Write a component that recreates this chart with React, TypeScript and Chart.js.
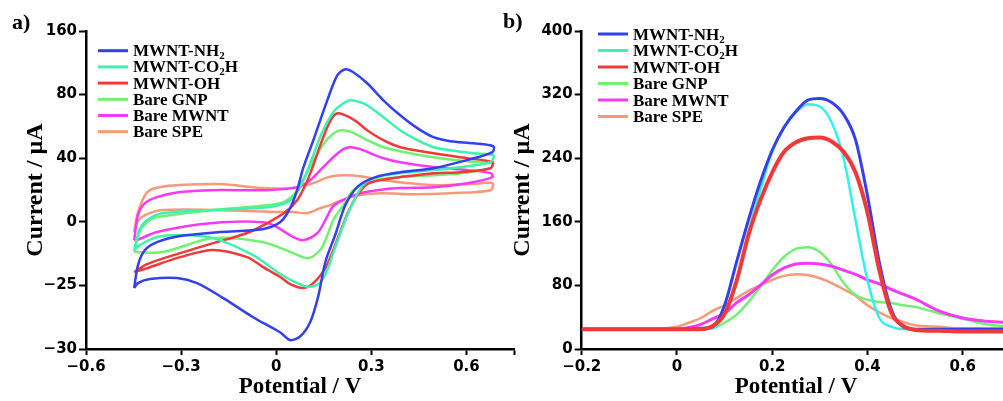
import React, { useEffect, useRef } from 'react';
import { Chart, registerables } from 'chart.js';

Chart.register(...registerables);

// ---------- shared ----------
const seriesNames = ['MWNT-NH₂', 'MWNT-CO₂H', 'MWNT-OH', 'Bare GNP', 'Bare MWNT', 'Bare SPE'];
const legendColors = ['#3340ee', '#40f0b0', '#f03a3a', '#72f072', '#f53af5', '#f8997a'];
const cvColors = ['#3340ee', '#40f0b0', '#f03a3a', '#72f072', '#f53af5', '#f8997a'];
const dpvColors = ['#3340ee', '#33f0f0', '#f03a3a', '#72f072', '#f53af5', '#f8997a'];

// ---------- panel a) cyclic voltammetry ----------
const cvYTickValues = [-30, -25, 0, 40, 80, 160];
const cvXTicks = [-0.6, -0.3, 0, 0.3, 0.6];

const cvNh2Potential = [-0.448, -0.436, -0.414, -0.376, -0.303, -0.177, -0.044, 0.013, 0.044, 0.066, 0.085, 0.117, 0.161, 0.193, 0.218, 0.243, 0.287, 0.338, 0.391, 0.445, 0.496, 0.549, 0.622, 0.685,
  0.682, 0.613, 0.496, 0.391, 0.313, 0.259, 0.218, 0.186, 0.155, 0.133, 0.107, 0.076, 0.044, 0.013, -0.073, -0.167, -0.250, -0.313, -0.398, -0.436, -0.448];
const cvNh2Current = [-25.2, -17.0, -11.1, -8.0, -5.6, -4.0, -2.9, -0.1, 8.6, 19.9, 33.7, 51.3, 76.4, 104.4, 111.9, 108.1, 94.3, 76.4, 67.0, 58.9, 53.2, 50.7, 49.4, 47.5,
  43.8, 39.4, 33.7, 31.2, 28.1, 22.4, 10.5, -5.2, -15.8, -25.8, -27.9, -29.0, -29.3, -28.7, -27.5, -26.0, -24.1, -22.1, -22.5, -24.1, -25.2];

const cvCo2hPotential = [-0.448, -0.429, -0.398, -0.357, -0.199, -0.028, 0.035, 0.066, 0.092, 0.117, 0.145, 0.180, 0.212, 0.234, 0.265, 0.287, 0.338, 0.391, 0.445, 0.496, 0.549, 0.622, 0.685,
  0.676, 0.603, 0.496, 0.391, 0.328, 0.287, 0.259, 0.234, 0.208, 0.183, 0.158, 0.133, 0.098, 0.060, 0.013, -0.073, -0.199, -0.303, -0.376, -0.429, -0.448];
const cvCo2hCurrent = [-11.1, -2.5, 2.3, 5.5, 7.4, 9.2, 12.4, 18.7, 29.0, 41.9, 56.3, 68.9, 74.5, 76.4, 75.2, 73.3, 65.8, 57.6, 51.3, 46.9, 45.0, 43.1, 41.9,
  37.5, 35.0, 32.5, 30.6, 28.7, 25.6, 18.7, 8.6, -2.5, -11.1, -19.8, -24.5, -25.1, -23.7, -20.5, -13.1, -6.4, -5.2, -6.0, -9.1, -11.1];

const cvOhPotential = [-0.448, -0.407, -0.303, -0.199, -0.092, -0.028, 0.029, 0.066, 0.092, 0.117, 0.139, 0.161, 0.180, 0.196, 0.224, 0.256, 0.287, 0.338, 0.391, 0.496, 0.603, 0.682,
  0.676, 0.581, 0.496, 0.391, 0.328, 0.287, 0.256, 0.227, 0.202, 0.180, 0.155, 0.117, 0.085, 0.044, 0.013, -0.041, -0.092, -0.199, -0.303, -0.407, -0.448];
const cvOhCurrent = [-19.8, -16.6, -12.3, -8.4, -4.4, -0.5, 6.1, 13.6, 23.1, 35.6, 48.2, 59.5, 66.4, 68.3, 66.4, 62.6, 57.6, 51.3, 46.9, 43.1, 40.0, 37.5,
  33.7, 31.2, 30.6, 28.1, 26.2, 23.7, 16.8, 6.1, -4.0, -11.1, -18.2, -24.1, -25.2, -24.5, -21.7, -17.8, -13.9, -11.1, -13.9, -18.2, -19.8];

const cvGnpPotential = [-0.448, -0.429, -0.398, -0.376, -0.199, 0.013, 0.054, 0.076, 0.101, 0.133, 0.164, 0.193, 0.212, 0.240, 0.287, 0.338, 0.391, 0.496, 0.603, 0.682,
  0.676, 0.581, 0.496, 0.391, 0.328, 0.281, 0.243, 0.212, 0.180, 0.158, 0.139, 0.101, 0.054, -0.041, -0.199, -0.357, -0.448];
const cvGnpCurrent = [-11.9, -3.3, 1.1, 3.0, 7.4, 11.7, 16.8, 23.1, 32.5, 43.8, 52.6, 57.0, 57.6, 56.3, 51.3, 46.9, 44.4, 40.6, 38.1, 36.9,
  33.7, 30.6, 29.3, 28.1, 26.8, 24.3, 19.9, 10.5, 1.1, -6.4, -11.1, -14.3, -12.3, -8.0, -6.4, -11.9, -11.9];

const cvMwntPotential = [-0.448, -0.436, -0.414, -0.376, -0.303, -0.199, -0.028, 0.066, 0.107, 0.145, 0.180, 0.212, 0.234, 0.265, 0.297, 0.338, 0.391, 0.496, 0.603, 0.676,
  0.682, 0.603, 0.496, 0.391, 0.319, 0.265, 0.218, 0.180, 0.155, 0.130, 0.085, 0.054, -0.028, -0.199, -0.376, -0.439, -0.448];
const cvMwntCurrent = [-7.2, 4.2, 11.7, 15.5, 18.7, 19.9, 19.9, 21.8, 26.2, 33.7, 40.6, 45.7, 46.9, 45.7, 43.1, 40.0, 37.5, 34.4, 32.5, 30.6,
  28.1, 24.3, 21.8, 21.2, 19.9, 18.0, 14.3, 9.9, 1.1, -4.4, -7.2, -6.0, -0.5, -0.5, -4.0, -7.2, -7.2];

const cvSpePotential = [-0.448, -0.436, -0.407, -0.366, -0.303, -0.177, -0.041, 0.054, 0.117, 0.164, 0.212, 0.265, 0.338, 0.496, 0.613, 0.682,
  0.676, 0.549, 0.433, 0.328, 0.265, 0.224, 0.170, 0.139, 0.098, 0.054, 0.013, -0.199, -0.357, -0.414, -0.439, -0.448];
const cvSpeCurrent = [-4.0, 6.1, 18.7, 21.8, 23.1, 23.7, 21.2, 21.2, 24.3, 28.1, 29.3, 28.7, 26.2, 23.1, 23.7, 24.3,
  19.9, 18.0, 17.4, 18.0, 16.8, 14.9, 10.5, 8.6, 5.5, 6.1, 6.1, 7.4, 7.4, 4.2, -0.2, -4.0];

// ---------- panel b) differential pulse voltammetry ----------
const dpvYTicks = [0, 80, 160, 240, 320, 400];
const dpvXTicks = [-0.2, 0, 0.2, 0.4, 0.6];
const dpvPotential = [-0.2, -0.1, -0.05, 0, 0.025, 0.05, 0.075, 0.1, 0.125, 0.15, 0.175, 0.2, 0.225, 0.25, 0.275, 0.3, 0.325, 0.35, 0.375, 0.4, 0.425, 0.45, 0.475, 0.5, 0.55, 0.6, 0.65, 0.7];
const dpvNh2 = [25, 25, 25, 25, 25, 26, 28, 55, 109, 162, 210, 250, 279, 299, 313, 315, 310, 295, 263, 193, 109, 50, 28, 25, 25, 25, 25, 25];
const dpvCo2h = [25, 25, 25, 25, 25, 25, 26, 46, 83, 146, 200, 248, 279, 298, 308, 305, 285, 240, 162, 87, 39, 28, 25, 25, 25, 25, 25, 25];
const dpvOh = [25, 25, 25, 25, 25, 25, 29, 44, 85, 143, 187, 222, 248, 260, 265, 266, 261, 248, 222, 172, 99, 46, 29, 24, 23, 22, 22, 22];
const dpvGnp = [25, 25, 25, 25, 25, 25, 26, 33, 43, 59, 78, 99, 116, 126, 128, 122, 106, 83, 68, 62, 59, 58, 55, 53, 45, 38, 31, 28];
const dpvMwnt = [25, 25, 25, 25, 27, 31, 38, 45, 58, 68, 80, 93, 102, 107, 108, 107, 104, 99, 94, 87, 82, 75, 69, 63, 48, 39, 35, 33];
const dpvSpe = [25, 25, 25, 28, 33, 39, 48, 55, 64, 73, 80, 87, 92, 94, 93, 89, 83, 75, 67, 55, 46, 39, 34, 30, 28, 26, 26, 26];

// ---------- helpers ----------
const TICK_FONT = { family: '"DejaVu Sans", sans-serif', size: 15, weight: 'bold' as const };
const TITLE_FONT = { family: '"Liberation Serif", "Times New Roman", serif', size: 24, weight: 'bold' as const };

function fmtNum(v: number, digits: number) {
  if (Math.abs(v) < 1e-9) return '0';
  return (v < 0 ? '\u2212' : '') + Math.abs(v).toFixed(digits);
}

// map a current read against the (unevenly labelled) axis of panel a) onto its evenly spaced tick bands
function toCvAxis(v: number) {
  const t = cvYTickValues;
  for (let i = 0; i < t.length - 1; i++) {
    if (v <= t[i + 1] || i === t.length - 2) return i + (v - t[i]) / (t[i + 1] - t[i]);
  }
  return 0;
}

function drawRichLabel(ctx: CanvasRenderingContext2D, text: string, x: number, y: number, size: number) {
  const parts = text.split('₂');
  let cx = x;
  parts.forEach((p, i) => {
    ctx.font = `bold ${size}px "Liberation Serif", "Times New Roman", serif`;
    ctx.fillText(p, cx, y);
    cx += ctx.measureText(p).width;
    if (i < parts.length - 1) {
      ctx.font = `bold ${Math.round(size * 0.62)}px "Liberation Serif", "Times New Roman", serif`;
      ctx.fillText('2', cx, y + 3);
      cx += ctx.measureText('2').width;
    }
  });
}

const inlineLegendPlugin = {
  id: 'inlineLegend',
  afterDraw(chart: any, _args: any, opts: any) {
    const ctx: CanvasRenderingContext2D = chart.ctx;
    ctx.save();
    chart.data.datasets.forEach((ds: any, i: number) => {
      const yy = opts.y + i * opts.step;
      ctx.strokeStyle = opts.colors[i];
      ctx.lineWidth = 3;
      ctx.beginPath();
      ctx.moveTo(opts.x, yy);
      ctx.lineTo(opts.x + 30, yy);
      ctx.stroke();
      ctx.fillStyle = '#000';
      ctx.textBaseline = 'alphabetic';
      ctx.textAlign = 'left';
      drawRichLabel(ctx, ds.label, opts.x + 35, yy + 5.5, 17);
    });
    ctx.restore();
  },
};

const panelLabelPlugin = {
  id: 'panelLabel',
  afterDraw(chart: any, _args: any, opts: any) {
    const ctx: CanvasRenderingContext2D = chart.ctx;
    ctx.save();
    ctx.fillStyle = '#000';
    ctx.textAlign = 'left';
    ctx.textBaseline = 'alphabetic';
    ctx.font = 'bold 22px "Liberation Serif", "Times New Roman", serif';
    ctx.fillText(opts.text, opts.x, opts.y);
    ctx.restore();
  },
};

function axisStyle(tickLength: number) {
  return {
    grid: { display: true, drawOnChartArea: false, drawTicks: true, tickLength, tickWidth: 2, color: '#000' },
    border: { display: true, width: 2.5, color: '#000' },
  };
}

export default function App() {
  const leftRef = useRef<HTMLCanvasElement>(null);
  const rightRef = useRef<HTMLCanvasElement>(null);

  useEffect(() => {
    const cvSeries = [
      [cvNh2Potential, cvNh2Current],
      [cvCo2hPotential, cvCo2hCurrent],
      [cvOhPotential, cvOhCurrent],
      [cvGnpPotential, cvGnpCurrent],
      [cvMwntPotential, cvMwntCurrent],
      [cvSpePotential, cvSpeCurrent],
    ];
    const left = new Chart(leftRef.current!, {
      type: 'scatter',
      data: {
        datasets: cvSeries.map(([pot, cur], i) => ({
          label: seriesNames[i],
          data: pot.map((x, j) => ({ x, y: toCvAxis(cur[j]) })),
          borderColor: cvColors[i],
          backgroundColor: cvColors[i],
          borderWidth: 2.5,
          showLine: true,
          pointRadius: 0,
          tension: 0.3,
          fill: false,
        })),
      },
      options: {
        animation: false,
        responsive: false,
        maintainAspectRatio: false,
        layout: { padding: { left: 0, top: 31, right: 26, bottom: 0 } },
        plugins: {
          legend: { display: false },
          tooltip: { enabled: false },
          inlineLegend: { x: 98, y: 50.7, step: 16.2, colors: legendColors },
          panelLabel: { text: 'a)', x: 12, y: 29 },
        } as any,
        scales: {
          x: {
            type: 'linear',
            min: -0.6,
            max: 0.75,
            afterBuildTicks: (ax: any) => { ax.ticks = [...cvXTicks, 0.75].map((value) => ({ value })); },
            afterFit: (s: any) => { s.height = 52; },
            ticks: {
              color: '#000', font: TICK_FONT, padding: 3, maxRotation: 0, autoSkip: false,
              callback: (v: any) => (cvXTicks.includes(v) ? fmtNum(v, v === 0 ? 0 : 1) : ''),
            },
            title: { display: true, text: 'Potential / V', color: '#000', font: { ...TITLE_FONT, size: 23 }, padding: { top: 0, bottom: 0 } },
            ...axisStyle(6),
          },
          y: {
            type: 'linear',
            min: 0,
            max: cvYTickValues.length - 1,
            afterBuildTicks: (ax: any) => { ax.ticks = cvYTickValues.map((_, i) => ({ value: i })); },
            afterFit: (s: any) => { s.width = 86; },
            ticks: {
              color: '#000', font: TICK_FONT, padding: 2, autoSkip: false,
              callback: (v: any) => fmtNum(cvYTickValues[Math.round(v)], 0),
            },
            title: { display: true, text: 'Current / µA', color: '#000', font: TITLE_FONT, padding: { top: 21, bottom: 0 } },
            ...axisStyle(7),
          },
        } as any,
      },
      plugins: [inlineLegendPlugin, panelLabelPlugin],
    } as any);

    const dpvSeries = [dpvNh2, dpvCo2h, dpvOh, dpvGnp, dpvMwnt, dpvSpe];
    const dpvWidths = [3, 2.5, 4, 2.5, 3, 2.5];
    const dpvOrder = [2, 3, 1, 5, 4, 6];
    const right = new Chart(rightRef.current!, {
      type: 'scatter',
      data: {
        datasets: dpvSeries.map((vals, i) => ({
          label: seriesNames[i],
          data: dpvPotential.map((x, j) => ({ x, y: vals[j] })),
          borderColor: dpvColors[i],
          backgroundColor: dpvColors[i],
          borderWidth: dpvWidths[i],
          order: dpvOrder[i],
          showLine: true,
          pointRadius: 0,
          cubicInterpolationMode: 'monotone',
          fill: false,
        })),
      },
      options: {
        animation: false,
        responsive: false,
        maintainAspectRatio: false,
        layout: { padding: { left: 0, top: 31, right: 9.7, bottom: 0 } },
        plugins: {
          legend: { display: false },
          tooltip: { enabled: false },
          inlineLegend: { x: 108, y: 34, step: 16.5, colors: legendColors },
          panelLabel: { text: 'b)', x: 13, y: 28 },
        } as any,
        scales: {
          x: {
            type: 'linear',
            min: -0.2,
            max: 0.7,
            afterBuildTicks: (ax: any) => { ax.ticks = dpvXTicks.map((value) => ({ value })); },
            afterFit: (s: any) => { s.height = 52; },
            ticks: {
              color: '#000', font: TICK_FONT, padding: 3, maxRotation: 0, autoSkip: false,
              callback: (v: any) => fmtNum(v, v === 0 ? 0 : 1),
            },
            title: { display: true, text: 'Potential / V', color: '#000', font: { ...TITLE_FONT, size: 23 }, padding: { top: 0, bottom: 0 } },
            ...axisStyle(6),
          },
          y: {
            type: 'linear',
            min: 0,
            max: 400,
            afterBuildTicks: (ax: any) => { ax.ticks = dpvYTicks.map((value) => ({ value })); },
            afterFit: (s: any) => { s.width = 91.7; },
            ticks: { color: '#000', font: TICK_FONT, padding: 2, autoSkip: false },
            title: { display: true, text: 'Current / µA', color: '#000', font: TITLE_FONT, padding: { top: 18.6, bottom: 0 } },
            ...axisStyle(7),
          },
        } as any,
      },
      plugins: [inlineLegendPlugin, panelLabelPlugin],
    } as any);

    return () => {
      left.destroy();
      right.destroy();
    };
  }, []);

  return (
    <div style={{ position: 'absolute', left: 0, top: 0, width: 1003, height: 401, overflow: 'hidden', background: '#fff' }}>
      <canvas ref={leftRef} width={540} height={401} style={{ position: 'absolute', left: 0, top: 0 }} />
      <canvas ref={rightRef} width={530} height={401} style={{ position: 'absolute', left: 490, top: 0 }} />
    </div>
  );
}
